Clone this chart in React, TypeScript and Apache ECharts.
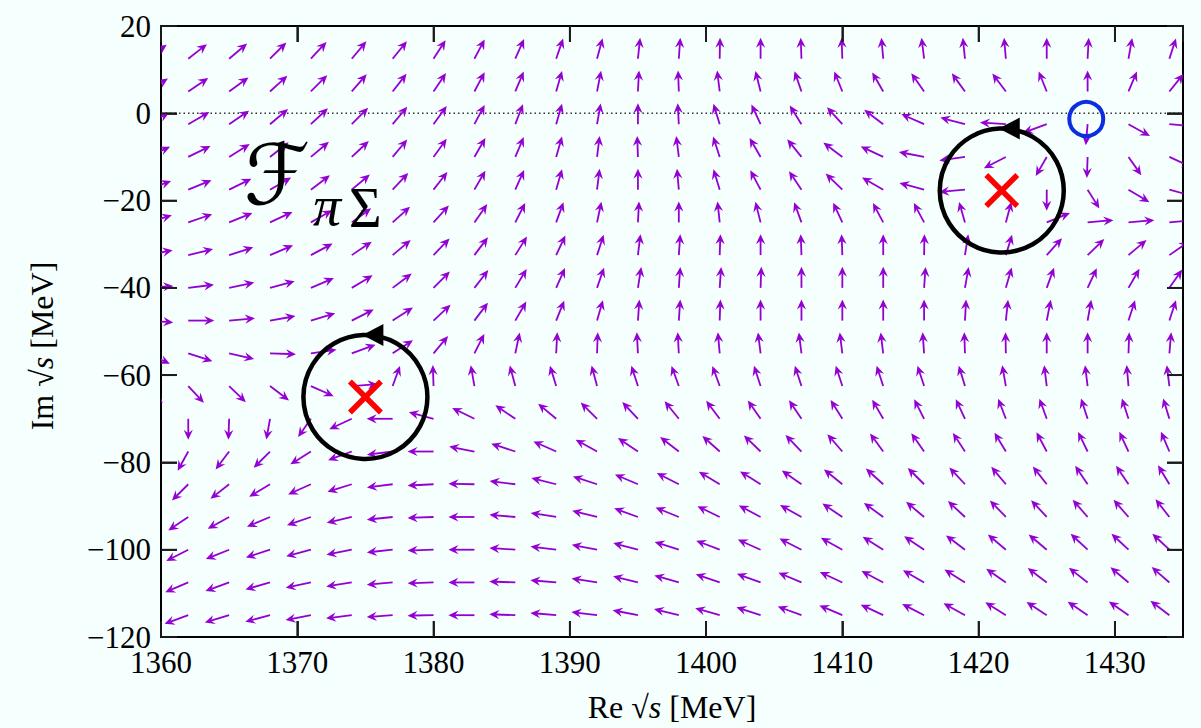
import React, { useEffect, useRef } from "react";
import * as echarts from "echarts";

// Grid of arrow tails (MeV)
const xCols = [1359, 1362, 1365, 1368, 1371, 1374, 1377, 1380, 1383, 1386, 1389, 1392, 1395, 1398, 1401, 1404, 1407, 1410, 1413, 1416, 1419, 1422, 1425, 1428, 1431, 1434];
const yRows = [12.5, 5, -2.5, -10, -17.5, -25, -32.5, -40, -47.5, -55, -62.5, -70, -77.5, -85, -92.5, -100, -107.5, -115];

// Arrow directions (degrees, counter-clockwise from +Re), one row per yRows entry
const arrowAngles: (number | null)[][] = [
  [36, 38, 40, 45, 47, 50, 51, 57, 62, 66, 71, 75, 84, 86, 89, 90, 92, 92, 95, 97, 96, 95, 90, 87, 80, 72],
  [32, 34, 36, 42, 45, 49, 52, 56, 62, 67, 74, 79, 87, 92, 97, 104, 109, 112, 120, 125, 126, 127, 112, 90, 67, 51],
  [28, 30, 34, 40, 43, 45, 50, 54, 62, 69, 74, 80, 90, 93, 107, 115, 122, 132, 143, 156, 165, 176, 200, 265, 331, 355],
  [24, 26, 32, 38, 40, 43, 50, 54, 60, 67, 74, 83, 92, 97, 108, 120, 129, 143, 155, 169, 188, 207, 240, 268, 305, 335],
  [20, 22, 26, 30, 37, 40, 47, 52, 60, 66, 74, 83, 90, 95, 107, 118, 124, 136, 150, 165, 185, null, 270, 302, 329, 345],
  [16, 19, 22, 25, 30, 36, 42, 48, 55, 63, 70, 78, 87, 90, 96, 104, 110, 115, 118, 118, 106, 75, 22, 5, 5, 5],
  [11, 14, 18, 23, 28, 34, 40, 46, 53, 58, 65, 72, 83, 86, 88, 90, 92, 92, 90, 89, 81, 73, 48, 44, 40, 35],
  [4, 7, 12, 15, 23, 31, 37, 45, 52, 59, 66, 71, 81, 86, 86, 88, 90, 90, 90, 86, 80, 74, 70, 65, 60, 55],
  [356, 0, 5, 10, 17, 27, 33, 43, 53, 60, 68, 74, 86, 86, 88, 90, 90, 90, 90, 90, 87, 84, 79, 80, 72, 72],
  [335, 342, 347, 358, 8, 20, 33, 50, 63, 78, 87, 88, 93, 93, 95, 97, 97, 97, 97, 94, 92, 91, 90, 90, 88, 85],
  [312, 313, 316, 323, 336, 4, 70, 92, 100, 105, 107, 105, 108, 110, 110, 108, 108, 108, 108, 108, 107, 100, 97, 97, 95, 97],
  [275, 270, 268, 260, 235, 205, 180, 165, 154, 146, 140, 135, 133, 129, 127, 125, 124, 122, 120, 117, 115, 111, 110, 108, 108, 107],
  [248, 241, 233, 225, 212, 200, 187, 180, 169, 162, 156, 151, 146, 142, 138, 136, 134, 131, 126, 125, 123, 121, 118, 116, 115, 113],
  [230, 225, 218, 211, 204, 197, 187, 183, 179, 173, 166, 162, 157, 153, 149, 148, 145, 141, 138, 135, 133, 130, 128, 124, 124, 121],
  [218, 214, 209, 203, 199, 193, 186, 182, 180, 175, 171, 166, 160, 158, 154, 152, 151, 146, 144, 140, 137, 134, 133, 131, 131, 128],
  [210, 207, 202, 198, 195, 191, 186, 182, 180, 176, 173, 169, 165, 162, 159, 156, 153, 151, 148, 146, 143, 140, 140, 137, 137, 137],
  [206, 203, 200, 196, 192, 189, 185, 182, 180, 178, 175, 171, 166, 164, 161, 160, 157, 155, 152, 150, 148, 145, 143, 142, 140, 139],
  [203, 200, 197, 195, 191, 187, 184, 181, 180, 178, 175, 173, 169, 166, 164, 162, 160, 157, 155, 153, 151, 148, 147, 146, 145, 143],
];

// Poles (red crosses with circulating contour) and zero (blue circle)
const poles = [
  [1375.0, -65.0],
  [1421.7, -17.7],
];
const zeros = [[1427.9, -1.3]];

const xTickValues = [1360, 1370, 1380, 1390, 1400, 1410, 1420, 1430];
const yTickValues = [20, 0, -20, -40, -60, -80, -100, -120];

const SERIF = '"Liberation Serif", "DejaVu Serif", serif';
const PURPLE = "#9400d3";

export default function App() {
  const ref = useRef<HTMLDivElement>(null);

  useEffect(() => {
    const chart = echarts.init(ref.current!, null, { renderer: "svg" });

    // kind 0: arrow [x, y, 0, angle]; kind 1: x tick [x, -120, 1, 0]; kind 2: y tick [1360, y, 2, 0]
    const markData: number[][] = [];
    yRows.forEach((y, j) => {
      xCols.forEach((x, k) => {
        const a = arrowAngles[j][k];
        if (a !== null && a !== undefined) markData.push([x, y, 0, a]);
      });
    });
    xTickValues.forEach((v) => markData.push([v, -120, 1, 0]));
    yTickValues.forEach((v) => markData.push([1360, v, 2, 0]));

    const fmtY = (v: number) => (yTickValues.includes(v) ? (v < 0 ? "\u2212" + -v : String(v)) : "");
    const fmtX = (v: number) => (xTickValues.includes(v) ? String(v) : "");

    const axisLine = { show: true, onZero: false, lineStyle: { color: "#000", width: 2 } };
    const axisTick = { show: true, inside: true, length: 16, lineStyle: { color: "#1a1a1a", width: 1.8 } };

    const tickEl = (x1: number, y1: number, x2: number, y2: number) => ({
      type: "line",
      shape: { x1, y1, x2, y2 },
      style: { stroke: "#1a1a1a", lineWidth: 1.8 },
    });

    const option: any = {
      animation: false,
      backgroundColor: "#f5fffd",
      grid: { left: 161, right: 18, top: 26, bottom: 91, show: false },
      xAxis: [
        {
          type: "value",
          min: 1360,
          max: 1435,
          interval: 10,
          position: "bottom",
          axisLine,
          axisTick,
          splitLine: { show: false },
          axisLabel: {
            formatter: fmtX,
            fontFamily: SERIF,
            fontSize: 31,
            color: "#000",
            margin: 10,
            showMaxLabel: false,
          },
        },
        {
          type: "value",
          min: 1360,
          max: 1435,
          interval: 10,
          position: "top",
          axisLine,
          axisTick,
          splitLine: { show: false },
          axisLabel: { show: false },
        },
      ],
      yAxis: [
        {
          type: "value",
          min: -120,
          max: 20,
          interval: 20,
          position: "left",
          axisLine,
          axisTick,
          splitLine: { show: false },
          axisLabel: {
            formatter: fmtY,
            fontFamily: SERIF,
            fontSize: 31,
            color: "#000",
            margin: 10,
          },
        },
        {
          type: "value",
          min: -120,
          max: 20,
          interval: 20,
          position: "right",
          axisLine,
          axisTick,
          splitLine: { show: false },
          axisLabel: { show: false },
        },
      ],
      series: [
        {
          type: "line",
          silent: true,
          symbol: "none",
          data: [
            [1360, 0],
            [1435, 0],
          ],
          lineStyle: { color: "#333", width: 1.5, type: [1.5, 3] },
          z: 1,
        },
        {
          type: "custom",
          clip: true,
          silent: true,
          data: markData,
          encode: { x: 0, y: 1 },
          z: 2,
          renderItem: (params: any, api: any) => {
            const p = api.coord([api.value(0), api.value(1)]);
            const kind = api.value(2);
            const cs = params.coordSys;
            const len = 16;
            if (kind === 1) {
              const top = cs.y;
              const bottom = cs.y + cs.height;
              return {
                type: "group",
                children: [tickEl(p[0], bottom, p[0], bottom - len), tickEl(p[0], top, p[0], top + len)],
              };
            }
            if (kind === 2) {
              const left = cs.x;
              const right = cs.x + cs.width;
              return {
                type: "group",
                children: [tickEl(left, p[1], left + len, p[1]), tickEl(right, p[1], right - len, p[1])],
              };
            }
            const ang = (api.value(3) * Math.PI) / 180;
            const c = Math.cos(ang);
            const s = Math.sin(ang);
            const L = 1 / Math.sqrt((c / 26) * (c / 26) + (s / 21) * (s / 21));
            const hx = p[0] + L * c;
            const hy = p[1] - L * s;
            const hl = 10;
            const hw = 4.6;
            const notch = 6.5;
            const bx = hx - hl * c;
            const by = hy + hl * s;
            const nx = hx - notch * c;
            const ny = hy + notch * s;
            const px = s;
            const py = c;
            return {
              type: "group",
              children: [
                {
                  type: "line",
                  shape: { x1: p[0], y1: p[1], x2: nx, y2: ny },
                  style: { stroke: PURPLE, lineWidth: 1.8 },
                },
                {
                  type: "polygon",
                  shape: {
                    points: [
                      [hx, hy],
                      [bx + hw * px, by + hw * py],
                      [nx, ny],
                      [bx - hw * px, by - hw * py],
                    ],
                  },
                  style: { fill: PURPLE },
                },
              ],
            };
          },
        },
        {
          type: "custom",
          silent: true,
          data: poles,
          encode: { x: 0, y: 1 },
          z: 3,
          renderItem: (params: any, api: any) => {
            const p = api.coord([api.value(0), api.value(1)]);
            const r = 62;
            const top = p[1] - r;
            const d = 15.5;
            return {
              type: "group",
              children: [
                {
                  type: "circle",
                  shape: { cx: p[0], cy: p[1], r },
                  style: { fill: "none", stroke: "#000", lineWidth: 4.5 },
                },
                {
                  type: "polygon",
                  shape: {
                    points: [
                      [p[0] - 3, top],
                      [p[0] + 18, top - 11],
                      [p[0] + 18, top + 11],
                    ],
                  },
                  style: { fill: "#000" },
                },
                {
                  type: "line",
                  shape: { x1: p[0] - d, y1: p[1] - d, x2: p[0] + d, y2: p[1] + d },
                  style: { stroke: "#ff0000", lineWidth: 5.5 },
                },
                {
                  type: "line",
                  shape: { x1: p[0] - d, y1: p[1] + d, x2: p[0] + d, y2: p[1] - d },
                  style: { stroke: "#ff0000", lineWidth: 5.5 },
                },
              ],
            };
          },
        },
        {
          type: "custom",
          silent: true,
          data: zeros,
          encode: { x: 0, y: 1 },
          z: 3,
          renderItem: (params: any, api: any) => {
            const p = api.coord([api.value(0), api.value(1)]);
            return {
              type: "circle",
              shape: { cx: p[0], cy: p[1], r: 17 },
              style: { fill: "none", stroke: "#0a2ee0", lineWidth: 4 },
            };
          },
        },
      ],
      graphic: [
        {
          type: "text",
          x: 672,
          y: 707,
          z: 10,
          style: {
            text: "{r|Re \u221A}{i|s}{r| [MeV]}",
            align: "center",
            verticalAlign: "middle",
            rich: {
              r: { fontFamily: SERIF, fontSize: 32, fill: "#000" },
              i: { fontFamily: SERIF, fontSize: 32, fontStyle: "italic", fill: "#000" },
            },
          },
        },
        {
          type: "text",
          x: 42,
          y: 346,
          rotation: Math.PI / 2,
          z: 10,
          style: {
            text: "{r|Im \u221A}{i|s}{r| [MeV]}",
            align: "center",
            verticalAlign: "middle",
            rich: {
              r: { fontFamily: SERIF, fontSize: 32, fill: "#000" },
              i: { fontFamily: SERIF, fontSize: 32, fontStyle: "italic", fill: "#000" },
            },
          },
        },
        {
          type: "text",
          x: 244,
          y: 217,
          z: 10,
          style: {
            text: "\u2131",
            fontFamily: '"DejaVu Serif", "DejaVu Sans", serif',
            fontSize: 84,
            fill: "#000",
            verticalAlign: "bottom",
          },
        },
        {
          type: "text",
          x: 313,
          y: 234,
          z: 10,
          style: {
            text: "\u03C0",
            fontFamily: SERIF,
            fontSize: 56,
            fontStyle: "italic",
            fill: "#000",
            verticalAlign: "bottom",
          },
        },
        {
          type: "text",
          x: 349,
          y: 236,
          z: 10,
          style: {
            text: "\u03A3",
            fontFamily: SERIF,
            fontSize: 56,
            fill: "#000",
            verticalAlign: "bottom",
          },
        },
      ],
    };

    chart.setOption(option);
    return () => chart.dispose();
  }, []);

  return (
    <div
      ref={ref}
      style={{ position: "fixed", left: 0, top: 0, width: 1201, height: 728 }}
    />
  );
}
